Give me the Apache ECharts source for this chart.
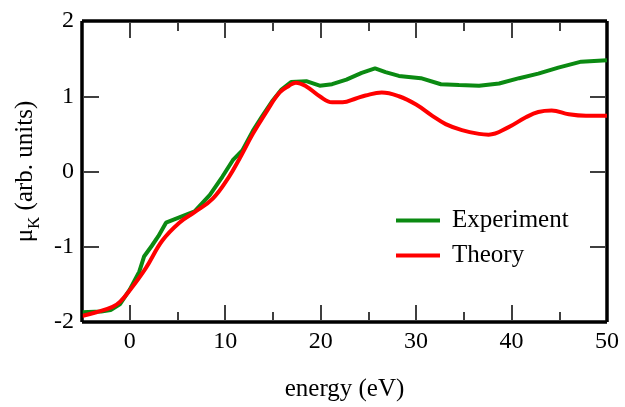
<!DOCTYPE html>
<html>
<head>
<meta charset="utf-8">
<script src="https://cdn.jsdelivr.net/npm/echarts@6/dist/echarts.min.js"></script>
<style>html,body{margin:0;padding:0;background:#fff;}#c{width:625px;height:407px;}</style>
</head>
<body>
<div id="c"></div>
<script>
const expEnergy = [-5, -3, -2, -1, 0, 0.5, 1.0, 1.5, 2.3, 3.0, 3.8, 5.2, 6.8, 8.4, 9.7, 10.8, 11.8, 12.9, 13.9, 14.9, 15.9, 16.9, 18.5, 19.9, 21.2, 22.7, 24.3, 25.7, 26.8, 28.2, 30.5, 32.6, 34.5, 36.6, 38.7, 40.8, 42.8, 44.9, 47.3, 50];
const expMu = [-1.87, -1.86, -1.84, -1.76, -1.57, -1.45, -1.33, -1.13, -0.99, -0.86, -0.68, -0.61, -0.53, -0.31, -0.07, 0.15, 0.28, 0.54, 0.74, 0.93, 1.09, 1.19, 1.20, 1.14, 1.16, 1.22, 1.31, 1.37, 1.32, 1.27, 1.24, 1.16, 1.15, 1.14, 1.17, 1.24, 1.30, 1.38, 1.46, 1.48];
const thEnergy = [-5, -3.5, -1.8, -1, 0, 1.7, 3.4, 5.2, 6.8, 8.7, 10.4, 11.5, 12.9, 14.3, 15.7, 16.7, 17.4, 18.5, 19.9, 21.2, 22.3, 23.7, 24.7, 26.4, 28.2, 30, 31.7, 33.1, 34.8, 36.6, 37.6, 39.7, 41.5, 42.8, 44.2, 46, 47.8, 50];
const thMu = [-1.92, -1.87, -1.80, -1.73, -1.58, -1.28, -0.92, -0.68, -0.54, -0.36, -0.07, 0.17, 0.50, 0.79, 1.05, 1.14, 1.18, 1.13, 1.00, 0.92, 0.92, 0.97, 1.01, 1.05, 1.00, 0.89, 0.74, 0.63, 0.55, 0.50, 0.49, 0.59, 0.72, 0.79, 0.81, 0.76, 0.74, 0.74];
const seriesNames = ['Experiment', 'Theory'];
const xLabelStep = 10;

const FONT = 'Liberation Serif';
const pair = (xs, ys) => xs.map((x, i) => [x, ys[i]]);
const noLine = { show: false, onZero: false };
const tick = len => ({ show: true, inside: true, length: len, lineStyle: { color: '#000', width: 1.5 } });
const minor = { show: true, splitNumber: 2, length: 8, lineStyle: { color: '#000', width: 1.5 } };
const frameSplit = { show: true, showMinLine: true, showMaxLine: true, lineStyle: { color: '#000', width: 3.5, type: 'solid' } };
const IN = -2;

const option = {
  animation: false,
  backgroundColor: '#fff',
  grid: { left: 82, right: 18, top: 21, bottom: 82 },
  legend: {
    orient: 'vertical', left: 391, top: 203, itemGap: 10,
    itemWidth: 44, itemHeight: 4, icon: 'rect',
    textStyle: { fontFamily: FONT, fontSize: 25, color: '#000', lineHeight: 25, padding: [0, 0, 0, 7] },
    data: seriesNames
  },
  xAxis: [
    {
      type: 'value', min: -5, max: 50, splitNumber: 5, position: 'bottom', offset: IN, z: 10,
      splitLine: { show: false }, axisLine: noLine,
      axisTick: tick(15), minorTick: minor,
      axisLabel: { show: true, fontFamily: FONT, fontSize: 24, color: '#000', margin: 10,
        formatter: v => (v % xLabelStep === 0 ? String(v) : '') },
      name: 'energy (eV)', nameLocation: 'middle', nameGap: 57,
      nameTextStyle: { fontFamily: FONT, fontSize: 25, color: '#000' }
    },
    {
      type: 'value', min: -5, max: 50, splitNumber: 5, position: 'top', offset: IN, z: 10,
      splitLine: { show: false }, axisLine: noLine,
      axisTick: tick(15), minorTick: minor, axisLabel: { show: false }
    },
    {
      type: 'value', min: -5, max: 50, interval: 55, position: 'bottom', z: 0,
      splitLine: frameSplit, axisLine: noLine, axisTick: { show: false }, axisLabel: { show: false }
    }
  ],
  yAxis: [
    {
      type: 'value', min: -2, max: 2, interval: 1, position: 'left', offset: IN, z: 10,
      splitLine: { show: false }, axisLine: noLine, axisTick: tick(15),
      axisLabel: { show: true, fontFamily: FONT, fontSize: 24, color: '#000', margin: 10 },
      name: '{mu|μ}{sub|K}{t| (arb. units)}', nameLocation: 'middle', nameGap: 33,
      nameTextStyle: {
        fontFamily: FONT, fontSize: 25, color: '#000',
        rich: {
          mu: { fontFamily: FONT, fontSize: 25, color: '#000', verticalAlign: 'top', lineHeight: 30 },
          sub: { fontFamily: FONT, fontSize: 17, color: '#000', verticalAlign: 'bottom', lineHeight: 30, padding: [8, 0, 0, 0] },
          t: { fontFamily: FONT, fontSize: 25, color: '#000', verticalAlign: 'top', lineHeight: 30 }
        }
      }
    },
    {
      type: 'value', min: -2, max: 2, interval: 1, position: 'right', offset: IN, z: 10,
      splitLine: { show: false }, axisLine: noLine, axisTick: tick(15), axisLabel: { show: false }
    },
    {
      type: 'value', min: -2, max: 2, interval: 4, position: 'left', z: 0,
      splitLine: frameSplit, axisLine: noLine, axisTick: { show: false }, axisLabel: { show: false }
    }
  ],
  series: [
    {
      name: seriesNames[0], type: 'line', xAxisIndex: 0, yAxisIndex: 0,
      data: pair(expEnergy, expMu), showSymbol: false, smooth: false,
      lineStyle: { color: '#0b8a12', width: 4 }, itemStyle: { color: '#0b8a12' }
    },
    {
      name: seriesNames[1], type: 'line', xAxisIndex: 0, yAxisIndex: 0,
      data: pair(thEnergy, thMu), showSymbol: false, smooth: 0.4,
      lineStyle: { color: '#ff0000', width: 4 }, itemStyle: { color: '#ff0000' }
    }
  ]
};
const chart = echarts.init(document.getElementById('c'), null, { renderer: 'canvas' });
chart.setOption(option);
</script>
</body>
</html>
